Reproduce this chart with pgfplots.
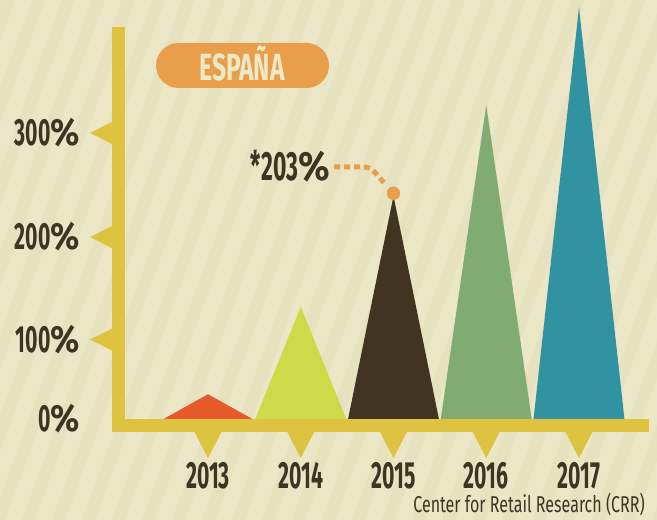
\documentclass[border=0pt]{standalone}
\usepackage{pgfplots}
\pgfplotsset{compat=1.18}
\usetikzlibrary{calc}
\usepackage{fontspec}
\setmainfont{Fira Sans}
\newfontfamily\cond{Fira Sans}[FakeStretch=0.56]
\newfontfamily\condt{Fira Sans}[FakeStretch=0.65]
\newfontfamily\condr{Fira Sans}[FakeStretch=0.70]
\newfontfamily\pctf{Fira Sans}[FakeStretch=0.9]
\newcommand\pc{{\pctf\bfseries\%}}
\definecolor{bg}{HTML}{EBE6C5}
\definecolor{stripe}{HTML}{E6E1BE}
\definecolor{axisY}{HTML}{DDC33F}
\definecolor{c13}{HTML}{E5592B}
\definecolor{c14}{HTML}{CDDB48}
\definecolor{c15}{HTML}{413522}
\definecolor{c16}{HTML}{80AC74}
\definecolor{c17}{HTML}{3193A1}
\definecolor{org}{HTML}{E89E4A}
\definecolor{txt}{HTML}{3F3423}
\definecolor{cream}{HTML}{EEE8C6}
\begin{document}
\begin{tikzpicture}[x=1bp,y=1bp]
\useasboundingbox (-112,-88) rectangle (545,432);
\fill[bg] (-112,-88) rectangle (545,432);
\begin{scope}
\clip (-112,-88) rectangle (545,432);
\foreach \i in {-30,...,25} \fill[stripe] ({\i*30},-88) -- ++(13,0) -- ++(190,520) -- ++(-13,0) -- cycle;
\end{scope}
\begin{axis}[at={(0,0)}, anchor=south west, scale only axis,
  width=537bp, height=432bp,
  xmin=2011.965, xmax=2017.755, ymin=-12.56, ymax=404.8,
  clip=false, axis line style={draw=none}, major tick length=0,
  xtick={2013,2014,2015,2016,2017},
  xticklabels={2013,2014,2015,2016,2017},
  ytick={0,76.8,175.8,276.3},
  yticklabels={0\pc,100\pc,200\pc,300\pc},
  ticklabel style={text=txt, font=\cond\bfseries\fontsize{38}{42}\selectfont, inner sep=0pt},
  xticklabel style={anchor=center, yshift=-44bp},
  yticklabel style={anchor=east, xshift=-32bp}]
\addplot[fill=c13, draw=none] coordinates {(2012.52,0) (2013,23.9) (2013.48,0)} -- cycle;
\addplot[fill=c14, draw=none] coordinates {(2013.51,0) (2014,108.5) (2014.49,0)} -- cycle;
\addplot[fill=c15, draw=none] coordinates {(2014.51,0) (2015,215.5) (2015.49,0)} -- cycle;
\addplot[fill=c16, draw=none] coordinates {(2015.51,0) (2016,303.4) (2016.49,0)} -- cycle;
\addplot[fill=c17, draw=none] coordinates {(2016.51,0) (2017,397.6) (2017.49,0)} -- cycle;
\addplot[only marks, mark=*, mark size=6.5bp, color=org] coordinates {(2015,218.1)};
\coordinate (b13) at (axis cs:2013,-12.56);
\coordinate (b14) at (axis cs:2014,-12.56);
\coordinate (b15) at (axis cs:2015,-12.56);
\coordinate (b16) at (axis cs:2016,-12.56);
\coordinate (b17) at (axis cs:2017,-12.56);
\coordinate (l1) at (axis cs:2011.965,76.8);
\coordinate (l2) at (axis cs:2011.965,175.8);
\coordinate (l3) at (axis cs:2011.965,276.3);
\coordinate (dot) at (axis cs:2015,218.1);
\end{axis}
% axis bars
\fill[axisY] (0,0) rectangle (13,405);
\fill[axisY] (0,0) rectangle (537,13);
\foreach \c in {b13,b14,b15,b16,b17}
  \fill[axisY] (\c) ++(-13.5,0) -- ++(27,0) -- ++(-13.5,-26) -- cycle;
\foreach \c in {l1,l2,l3}
  \fill[axisY] (\c) ++(0,11) -- ++(-22,-11) -- ++(22,-11) -- cycle;
% annotation
\draw[org, line width=5bp, dash pattern=on 6bp off 4bp, rounded corners=6bp] (222,265) -- (258,265) -- ($(dot)+(-8,9)$);
\node[anchor=east, inner sep=0pt, text=txt] at (218,266) {\cond\bfseries\fontsize{41}{44}\selectfont *203\pc};
% title pill
\node[fill=org, rounded corners=22.5bp, minimum width=173bp, minimum height=45bp, inner sep=0pt] at (130.5,366.5) {};
\node[anchor=base, inner sep=0pt, text=cream] at (130,351) {\condt\bfseries\fontsize{38}{40}\selectfont ESPAÑA};
% source
\node[anchor=base east, inner sep=0pt, text=txt] at (533,-81) {\condr\fontsize{23}{26}\selectfont Center for Retail Research (CRR)};
\end{tikzpicture}
\end{document}
